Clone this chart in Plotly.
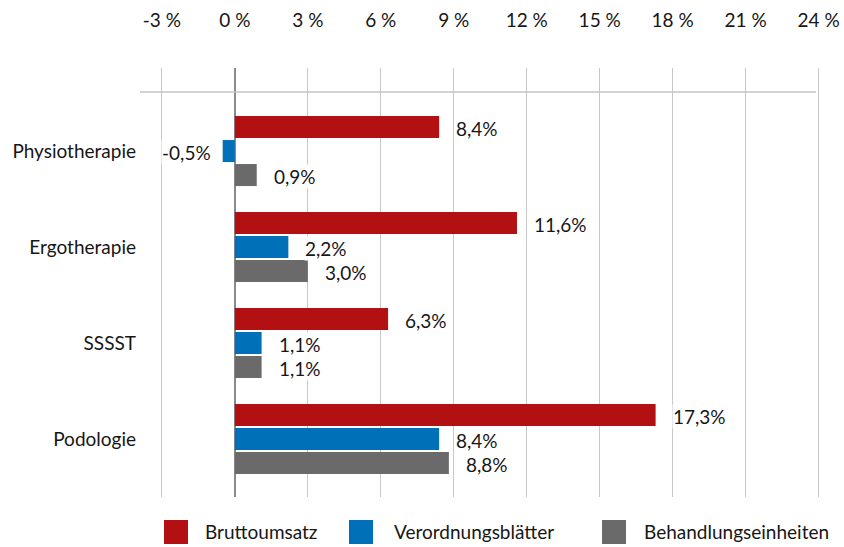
import plotly.graph_objects as go

categories = ["Physiotherapie", "Ergotherapie", "SSSST", "Podologie"]
series_names = ["Bruttoumsatz", "Verordnungsblätter", "Behandlungseinheiten"]
bruttoumsatz = [8.4, 11.6, 6.3, 17.3]
verordnungsblaetter = [-0.5, 2.2, 1.1, 8.4]
behandlungseinheiten = [0.9, 3.0, 1.1, 8.8]
series_values = [bruttoumsatz, verordnungsblaetter, behandlungseinheiten]
colors = ["#B21013", "#0071B9", "#6A6A6A"]
tick_values = [-3, 0, 3, 6, 9, 12, 15, 18, 21, 24]
tick_labels = ["-3 %", "0 %", "3 %", "6 %", "9 %", "12 %", "15 %", "18 %", "21 %", "24 %"]

FONT = "Lato, 'Open Sans', sans-serif"
TXT = "#161616"

# plot area geometry in pixels (layout)
L, R, T, B = 140, 23, 68, 50
W, H = 844 - L - R, 547 - T - B

def fmt(v):
    return f"{v:.1f}".replace(".", ",") + "%"

fig = go.Figure()
for name, vals, col in zip(series_names, series_values, colors):
    fig.add_trace(go.Bar(
        y=categories, x=vals, name=name, orientation="h",
        marker=dict(color=col, line=dict(width=0)),
        showlegend=False, hoverinfo="skip",
    ))

annotations = []
offsets = [-0.25, 0.0, 0.25]
for vals, off in zip(series_values, offsets):
    for i, v in enumerate(vals):
        annotations.append(dict(
            x=v, y=i + off, xref="x", yref="y",
            text=fmt(v), showarrow=False,
            xanchor="left" if v >= 0 else "right",
            xshift=16 if v >= 0 else -11, yshift=-1,
            bgcolor="white", borderpad=0,
            font=dict(family=FONT, size=19, color=TXT),
        ))

# manual legend (large square swatches)
legend_x = [164, 349, 602]
legend_text_x = [203, 392, 642]
shapes = []
for lx, tx, name, col in zip(legend_x, legend_text_x, series_names, colors):
    shapes.append(dict(
        type="rect", xref="paper", yref="paper",
        x0=(lx - L) / W, x1=(lx + 24 - L) / W,
        y0=(547 - B - 544) / H, y1=(547 - B - 520) / H,
        fillcolor=col, line=dict(width=0),
    ))
    annotations.append(dict(
        x=(tx - L) / W, y=(547 - B - 531) / H, xref="paper", yref="paper",
        text=name, showarrow=False, xanchor="left", yanchor="middle",
        font=dict(family=FONT, size=19, color=TXT),
    ))

# horizontal rule under the top area
shapes.append(dict(
    type="line", xref="paper", yref="paper",
    x0=0, x1=(816 - L) / W,
    y0=(547 - B - 92) / H, y1=(547 - B - 92) / H,
    line=dict(color="#c4c4c4", width=1.5),
))

fig.update_layout(
    width=844, height=547,
    margin=dict(l=L, r=R, t=T, b=B, autoexpand=False),
    paper_bgcolor="white", plot_bgcolor="white",
    barmode="group", bargap=0.25, bargroupgap=0.083,
    font=dict(family=FONT, size=19, color=TXT),
    showlegend=False,
    annotations=annotations,
    shapes=shapes,
    xaxis=dict(
        side="top", range=[-3.9, 24.1], automargin=False,
        tickvals=tick_values, ticktext=tick_labels,
        showgrid=True, gridcolor="#c8c8c8", gridwidth=1.2,
        zeroline=True, zerolinecolor="#8a8a8a", zerolinewidth=1.6,
        showline=False, ticks="", ticklabelstandoff=36,
        tickfont=dict(family=FONT, size=19, color=TXT),
    ),
    yaxis=dict(
        type="category", range=[3.604, -0.865], automargin=False,
        showgrid=False, zeroline=False, showline=False, ticks="",
        ticklabelstandoff=3,
        tickfont=dict(family=FONT, size=19, color=TXT),
    ),
)

fig.write_html("out.html", config={"displayModeBar": False},
               post_script="document.body.style.margin='0';")
